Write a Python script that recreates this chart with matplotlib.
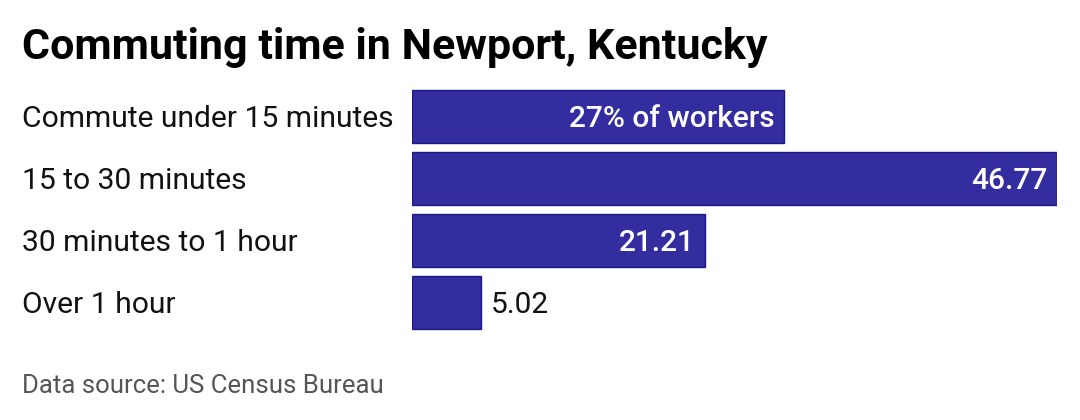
import matplotlib
matplotlib.use('Agg')
import matplotlib.pyplot as plt
import matplotlib.transforms as mtransforms

# data
categories = ['Commute under 15 minutes', '15 to 30 minutes', '30 minutes to 1 hour', 'Over 1 hour']
values = [27.0, 46.77, 21.21, 5.02]
value_labels = ['27% of workers', '46.77', '21.21', '5.02']

plt.rcParams['font.family'] = ['Roboto', 'DejaVu Sans']

W, H = 1080, 420
fig = plt.figure(figsize=(W / 100, H / 100), dpi=100)
fig.patch.set_facecolor('white')

# axes placed to match the bar area
ax = fig.add_axes([412 / W, 1 - 333.5 / H, (1057 - 412) / W, (333.5 - 85.5) / H])
ax.set_xlim(0, max(values))
ax.set_ylim(len(categories) - 0.5, -0.5)
ax.axis('off')

ypos = list(range(len(categories)))
ax.barh(ypos, values, height=0.855, color='#332d9f', edgecolor='#1c1a86', linewidth=1)

# small downward nudge so text looks centred on the bars
nudge = mtransforms.ScaledTranslation(0, -2.5 / 100, fig.dpi_scale_trans)

# category labels on the left
trans = mtransforms.blended_transform_factory(fig.transFigure, ax.transData) + nudge
for y, cat in zip(ypos, categories):
    ax.text(22 / W, y, cat, transform=trans, ha='left', va='center',
            fontsize=21.6, color='#111111')

# value labels: inside (white) for long bars, outside (dark) for short ones
for y, v, lab in zip(ypos, values, value_labels):
    if v > 10:
        ax.annotate(lab, (v, y), xytext=(-7, -2), textcoords='offset points',
                    ha='right', va='center', fontsize=21.5, color='white',
                    fontweight='medium')
    else:
        ax.annotate(lab, (v, y), xytext=(7, -2), textcoords='offset points',
                    ha='left', va='center', fontsize=21.5, color='#111111')

# title and source
fig.text(22 / W, 1 - 47 / H, 'Commuting time in Newport, Kentucky', ha='left', va='center',
         fontsize=31, fontweight='bold', color='black')
fig.text(22 / W, 1 - 386 / H, 'Data source: US Census Bureau', ha='left', va='center',
         fontsize=18.5, color='#555555')

plt.savefig('out.png', dpi=100)
